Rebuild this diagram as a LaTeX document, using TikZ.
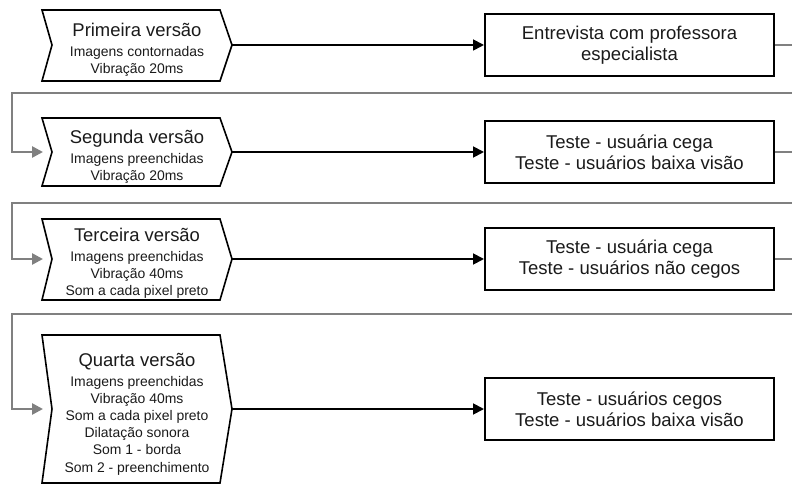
\documentclass[tikz,border=0pt]{standalone}
\usepackage{fontspec}
\setmainfont{Liberation Sans}
\usetikzlibrary{arrows.meta}
\definecolor{loopgray}{HTML}{808080}
\definecolor{txt}{HTML}{1A1A1A}
\tikzset{
 chev/.style={draw=black, line width=1.6bp, line join=miter},
 chevtext/.style={align=center, inner sep=0pt, text=txt, font=\fontsize{14}{17.2}\selectfont},
 stagebox/.style={draw=black, line width=2bp, minimum width=289bp, minimum height=62bp, align=center, inner sep=0pt, text=txt, font=\fontsize{18.6}{21.5}\selectfont},
 flow/.style={draw=black, line width=1.8bp, -{Triangle[length=11bp,width=11bp]}},
 loopback/.style={draw=loopgray, line width=2.6bp, -{Triangle[length=11bp,width=11bp]}},
}
\newcommand{\mytitle}[1]{{\fontsize{18.5}{18.5}\selectfont #1}}
\newcommand{\drawchev}[3]{\draw[chev] (42,#1) -- (220,#1) -- (232,#3) -- (220,#2) -- (42,#2) -- (52,#3) -- cycle;}
\begin{document}
\begin{tikzpicture}[x=1bp,y=-1bp]
\useasboundingbox (0,0) rectangle (792,484);
\clip (0,0) rectangle (792,484);

% chevrons
\drawchev{10}{81}{45}
\drawchev{118}{186}{152}
\drawchev{219}{300}{259}
\drawchev{335}{483}{409}

\node[chevtext] (v1) at (137,50) {\mytitle{Primeira versão}\\[3pt]Imagens contornadas\\Vibração 20ms};
\node[chevtext] (v2) at (137,157) {\mytitle{Segunda versão}\\[3pt]Imagens preenchidas\\Vibração 20ms};
\node[chevtext] (v3) at (137,263) {\mytitle{Terceira versão}\\[3pt]Imagens preenchidas\\Vibração 40ms\\Som a cada pixel preto};
\node[chevtext] (v4) at (137,414) {\mytitle{Quarta versão}\\[3pt]Imagens preenchidas\\Vibração 40ms\\Som a cada pixel preto\\Dilatação sonora\\Som 1 - borda\\Som 2 - preenchimento};

\coordinate (t1) at (232,45);
\coordinate (t2) at (232,152);
\coordinate (t3) at (232,259);
\coordinate (t4) at (232,409);
\coordinate (i2) at (43,152);
\coordinate (i3) at (43,259);
\coordinate (i4) at (43,409);

% boxes
\node[stagebox] (b1) at (629.5,45) {Entrevista com professora\\especialista};
\node[stagebox] (b2) at (629.5,152) {Teste - usuária cega\\Teste - usuários baixa visão};
\node[stagebox] (b3) at (629.5,259) {Teste - usuária cega\\Teste - usuários não cegos};
\node[stagebox] (b4) at (629.5,409) {Teste - usuários cegos\\Teste - usuários baixa visão};

% flows
\draw[flow] (t1) -- (b1.west);
\draw[flow] (t2) -- (b2.west);
\draw[flow] (t3) -- (b3.west);
\draw[flow] (t4) -- (b4.west);

% loop backs
\draw[loopback] (b1.east) -- (810,45) -- (810,93) -- (12,93) -- (12,152) -- (i2);
\draw[loopback] (b2.east) -- (810,152) -- (810,203) -- (12,203) -- (12,259) -- (i3);
\draw[loopback] (b3.east) -- (810,259) -- (810,314) -- (12,314) -- (12,409) -- (i4);
\end{tikzpicture}
\end{document}
